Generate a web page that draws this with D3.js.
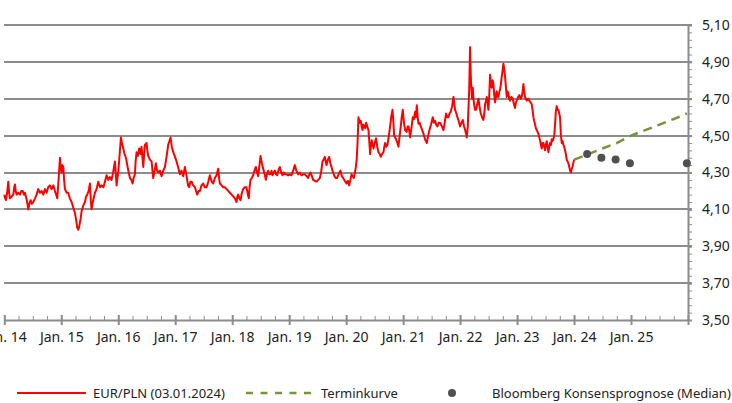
<!DOCTYPE html>
<html><head><meta charset="utf-8">
<script src="https://cdn.jsdelivr.net/npm/d3@7/dist/d3.min.js"></script>
<style>html,body{margin:0;padding:0;background:#fff;}svg{display:block;font-family:"Noto Sans",sans-serif;}</style>
</head><body><svg id="chart" width="732" height="403"></svg>
<script>
// EUR/PLN daily close approximated: [decimal year, rate]
const eurPln = [
[2014.000,4.18],[2014.015,4.16],[2014.029,4.15],[2014.050,4.19],[2014.070,4.25],[2014.085,4.19],[2014.099,4.16],[2014.130,4.17],[2014.158,4.18],[2014.175,4.22],
[2014.187,4.235],[2014.200,4.20],[2014.216,4.18],[2014.245,4.19],[2014.275,4.18],[2014.300,4.20],[2014.322,4.20],[2014.345,4.18],[2014.363,4.19],[2014.395,4.15],
[2014.421,4.10],[2014.440,4.13],[2014.462,4.15],[2014.485,4.13],[2014.509,4.14],[2014.540,4.16],[2014.567,4.18],[2014.596,4.21],[2014.625,4.19],[2014.655,4.20],
[2014.685,4.18],[2014.713,4.21],[2014.743,4.19],[2014.770,4.22],[2014.801,4.23],[2014.830,4.21],[2014.860,4.23],[2014.889,4.20],[2014.930,4.16],[2014.950,4.25],
[2014.977,4.38],[2014.990,4.33],
[2015.006,4.30],[2015.020,4.34],[2015.035,4.33],[2015.050,4.26],[2015.064,4.21],[2015.095,4.19],[2015.123,4.19],[2015.150,4.16],[2015.181,4.14],[2015.210,4.11],
[2015.240,4.08],[2015.262,4.04],[2015.281,4.00],[2015.300,3.99],[2015.316,4.01],[2015.340,4.05],[2015.357,4.09],[2015.385,4.12],[2015.415,4.14],[2015.436,4.17],
[2015.456,4.18],[2015.480,4.20],[2015.503,4.24],[2015.518,4.15],[2015.532,4.10],[2015.560,4.15],[2015.591,4.19],[2015.620,4.21],[2015.649,4.25],[2015.680,4.22],
[2015.708,4.23],[2015.740,4.22],[2015.766,4.25],[2015.795,4.285],[2015.825,4.26],[2015.854,4.275],[2015.883,4.26],[2015.910,4.30],[2015.942,4.36],[2015.955,4.30],
[2015.971,4.23],[2015.985,4.27],
[2016.000,4.30],[2016.020,4.38],[2016.047,4.49],[2016.065,4.46],[2016.088,4.43],[2016.110,4.40],[2016.135,4.38],[2016.170,4.32],[2016.205,4.27],[2016.230,4.26],
[2016.251,4.24],[2016.270,4.27],[2016.292,4.29],[2016.305,4.36],[2016.322,4.41],[2016.345,4.39],[2016.368,4.43],[2016.390,4.40],[2016.409,4.44],[2016.425,4.38],
[2016.439,4.33],[2016.455,4.40],[2016.468,4.45],[2016.497,4.46],[2016.510,4.42],[2016.526,4.39],[2016.555,4.37],[2016.585,4.36],[2016.614,4.27],[2016.640,4.31],
[2016.661,4.35],[2016.680,4.31],[2016.702,4.30],[2016.731,4.31],[2016.760,4.28],[2016.790,4.31],[2016.819,4.33],[2016.850,4.39],[2016.877,4.45],[2016.918,4.49],
[2016.940,4.44],[2016.965,4.41],[2016.990,4.39],
[2017.023,4.36],[2017.050,4.33],[2017.082,4.29],[2017.110,4.31],[2017.140,4.28],[2017.170,4.33],[2017.199,4.28],[2017.225,4.23],[2017.246,4.22],[2017.265,4.25],
[2017.287,4.25],[2017.315,4.23],[2017.345,4.22],[2017.365,4.20],[2017.386,4.18],[2017.410,4.20],[2017.433,4.20],[2017.460,4.23],[2017.491,4.24],[2017.520,4.22],
[2017.550,4.22],[2017.580,4.25],[2017.608,4.285],[2017.640,4.25],[2017.667,4.24],[2017.695,4.27],[2017.725,4.285],[2017.754,4.32],[2017.770,4.27],[2017.784,4.24],
[2017.815,4.23],[2017.842,4.22],[2017.870,4.22],[2017.901,4.21],[2017.930,4.20],[2017.959,4.19],[2017.990,4.18],
[2018.018,4.17],[2018.045,4.16],[2018.076,4.14],[2018.090,4.17],[2018.105,4.18],[2018.125,4.16],[2018.146,4.15],[2018.170,4.19],[2018.193,4.21],[2018.220,4.22],
[2018.251,4.22],[2018.275,4.18],[2018.292,4.16],[2018.305,4.22],[2018.322,4.26],[2018.345,4.27],[2018.368,4.285],[2018.390,4.31],[2018.415,4.33],[2018.436,4.30],
[2018.456,4.28],[2018.475,4.33],[2018.497,4.39],[2018.520,4.35],[2018.544,4.32],[2018.570,4.29],[2018.591,4.26],[2018.610,4.29],[2018.632,4.31],[2018.650,4.29],
[2018.673,4.29],[2018.690,4.31],[2018.708,4.285],[2018.728,4.30],[2018.749,4.31],[2018.770,4.29],[2018.789,4.285],[2018.810,4.31],[2018.836,4.33],[2018.860,4.30],
[2018.883,4.285],[2018.905,4.30],[2018.924,4.29],[2018.950,4.29],[2018.982,4.285],
[2019.010,4.29],[2019.041,4.285],[2019.070,4.31],[2019.099,4.34],[2019.125,4.31],[2019.158,4.29],[2019.185,4.30],[2019.216,4.285],[2019.245,4.29],[2019.275,4.29],
[2019.305,4.28],[2019.333,4.27],[2019.355,4.29],[2019.374,4.30],[2019.400,4.28],[2019.421,4.26],[2019.450,4.255],[2019.480,4.25],[2019.510,4.26],[2019.538,4.27],
[2019.560,4.30],[2019.585,4.36],[2019.605,4.37],[2019.626,4.385],[2019.640,4.36],[2019.655,4.34],[2019.680,4.37],[2019.702,4.385],[2019.722,4.35],[2019.743,4.33],
[2019.760,4.31],[2019.772,4.30],[2019.795,4.28],[2019.819,4.27],[2019.840,4.27],[2019.860,4.285],[2019.880,4.30],[2019.901,4.31],[2019.925,4.28],[2019.947,4.27],
[2019.975,4.255],
[2020.006,4.24],[2020.030,4.255],[2020.053,4.23],[2020.075,4.26],[2020.094,4.29],[2020.115,4.28],[2020.135,4.27],[2020.155,4.30],[2020.170,4.33],[2020.185,4.37],
[2020.200,4.46],[2020.216,4.60],[2020.237,4.57],[2020.257,4.58],[2020.272,4.55],[2020.287,4.53],[2020.300,4.56],[2020.316,4.55],[2020.335,4.54],[2020.351,4.57],
[2020.370,4.55],[2020.392,4.53],[2020.408,4.46],[2020.421,4.40],[2020.435,4.45],[2020.450,4.475],[2020.465,4.45],[2020.480,4.43],[2020.500,4.46],[2020.526,4.485],
[2020.545,4.44],[2020.567,4.41],[2020.590,4.40],[2020.608,4.385],[2020.630,4.40],[2020.655,4.41],[2020.670,4.44],[2020.684,4.46],[2020.705,4.44],[2020.725,4.45],
[2020.750,4.50],[2020.772,4.55],[2020.790,4.60],[2020.813,4.64],[2020.828,4.58],[2020.842,4.50],[2020.860,4.49],[2020.877,4.48],[2020.900,4.46],[2020.918,4.44],
[2020.940,4.50],[2020.959,4.55],[2020.975,4.60],[2020.994,4.64],
[2021.015,4.57],[2021.035,4.53],[2021.060,4.52],[2021.080,4.55],[2021.094,4.55],[2021.110,4.52],[2021.123,4.49],[2021.145,4.54],[2021.170,4.60],[2021.190,4.59],
[2021.211,4.63],[2021.225,4.60],[2021.240,4.665],[2021.255,4.60],[2021.269,4.565],[2021.290,4.57],[2021.310,4.55],[2021.335,4.53],[2021.357,4.51],[2021.385,4.48],
[2021.415,4.46],[2021.440,4.50],[2021.462,4.53],[2021.490,4.56],[2021.520,4.60],[2021.540,4.57],[2021.561,4.58],[2021.580,4.56],[2021.602,4.55],[2021.625,4.57],
[2021.649,4.57],[2021.680,4.55],[2021.708,4.53],[2021.730,4.57],[2021.754,4.62],[2021.775,4.60],[2021.795,4.60],[2021.815,4.62],[2021.836,4.63],[2021.860,4.66],
[2021.883,4.71],[2021.900,4.67],[2021.912,4.64],[2021.935,4.62],[2021.953,4.60],[2021.975,4.58],
[2022.000,4.55],[2022.025,4.57],[2022.047,4.585],[2022.070,4.55],[2022.088,4.53],[2022.105,4.51],[2022.117,4.49],[2022.135,4.55],[2022.146,4.64],[2022.160,4.75],
[2022.175,4.98],[2022.185,4.85],[2022.193,4.78],[2022.210,4.70],[2022.222,4.76],[2022.235,4.70],[2022.246,4.67],[2022.262,4.64],[2022.281,4.64],[2022.300,4.67],
[2022.322,4.70],[2022.340,4.66],[2022.363,4.62],[2022.385,4.60],[2022.409,4.585],[2022.425,4.62],[2022.439,4.67],[2022.455,4.69],[2022.468,4.71],[2022.482,4.68],
[2022.497,4.64],[2022.512,4.72],[2022.526,4.83],[2022.540,4.78],[2022.556,4.76],[2022.570,4.80],[2022.585,4.78],[2022.600,4.72],[2022.614,4.68],[2022.630,4.72],
[2022.643,4.74],[2022.658,4.71],[2022.673,4.71],[2022.690,4.74],[2022.702,4.75],[2022.716,4.78],[2022.731,4.82],[2022.745,4.85],[2022.760,4.89],[2022.775,4.86],
[2022.789,4.82],[2022.805,4.76],[2022.819,4.71],[2022.833,4.74],[2022.848,4.73],[2022.862,4.70],[2022.877,4.69],[2022.900,4.71],[2022.924,4.70],[2022.945,4.67],
[2022.965,4.65],[2022.980,4.68],[2022.994,4.69],
[2023.020,4.71],[2023.041,4.72],[2023.060,4.70],[2023.082,4.71],[2023.098,4.74],[2023.111,4.78],[2023.125,4.74],[2023.140,4.71],[2023.155,4.70],[2023.170,4.69],
[2023.195,4.70],[2023.216,4.69],[2023.237,4.68],[2023.257,4.67],[2023.272,4.64],[2023.287,4.60],[2023.300,4.58],[2023.316,4.56],[2023.330,4.54],[2023.345,4.53],
[2023.360,4.52],[2023.374,4.51],[2023.390,4.49],[2023.404,4.475],[2023.418,4.45],[2023.433,4.43],[2023.447,4.46],[2023.462,4.46],[2023.476,4.44],[2023.491,4.42],
[2023.505,4.45],[2023.520,4.47],[2023.535,4.44],[2023.550,4.41],[2023.565,4.44],[2023.579,4.46],[2023.595,4.45],[2023.608,4.48],[2023.622,4.47],[2023.637,4.48],
[2023.652,4.50],[2023.667,4.56],[2023.680,4.63],[2023.696,4.66],[2023.710,4.64],[2023.725,4.64],[2023.740,4.62],[2023.754,4.60],[2023.770,4.50],[2023.784,4.46],
[2023.800,4.47],[2023.813,4.45],[2023.828,4.44],[2023.842,4.42],[2023.857,4.40],[2023.871,4.37],[2023.886,4.36],[2023.901,4.35],[2023.916,4.33],[2023.930,4.31],
[2023.947,4.30],[2023.960,4.32],[2023.971,4.33],[2023.985,4.35],[2024.003,4.37]
];
const terminTimes  = [2024.003, 2024.25, 2024.5, 2024.75, 2025.0, 2025.25, 2025.5, 2025.75, 2025.98];
const terminValues = [4.37, 4.40, 4.43, 4.46, 4.50, 4.53, 4.56, 4.59, 4.62];
const forecastTimes  = [2024.23, 2024.48, 2024.73, 2024.98, 2025.98];
const forecastValues = [4.40, 4.38, 4.37, 4.35, 4.35];
const yTickValues = [3.5, 3.7, 3.9, 4.1, 4.3, 4.5, 4.7, 4.9, 5.1];
const xTickYears  = [2014, 2015, 2016, 2017, 2018, 2019, 2020, 2021, 2022, 2023, 2024, 2025, 2026];
const xTickLabels = ["Jan. 14","Jan. 15","Jan. 16","Jan. 17","Jan. 18","Jan. 19","Jan. 20","Jan. 21","Jan. 22","Jan. 23","Jan. 24","Jan. 25",""];
const legendLabels = ["EUR/PLN (03.01.2024)", "Terminkurve", "Bloomberg Konsensprognose (Median)"];

const svg = d3.select("#chart");
const gridColor = "#8c8c8c";
const x = d3.scaleLinear().domain([2014, 2026]).range([4.3, 688]);
const y = d3.scaleLinear().domain([3.5, 5.1]).range([320, 25]);

// gridlines
svg.append("g").selectAll("line").data(yTickValues.filter(v => v > 3.5)).join("line")
  .attr("x1", 4).attr("x2", 692)
  .attr("y1", d => Math.round(y(d))).attr("y2", d => Math.round(y(d)))
  .attr("stroke", gridColor).attr("stroke-width", 2);

// right axis: minor ticks
const yMinor = d3.range(0, 41).map(i => 3.5 + i * 0.04);
const yMinorAxis = d3.axisRight(y).tickValues(yMinor).tickSize(4).tickFormat("").tickSizeOuter(0);
const gyMinor = svg.append("g").attr("transform", "translate(688,0)").call(yMinorAxis);
gyMinor.select(".domain").attr("stroke", gridColor).attr("stroke-width", 2);
gyMinor.selectAll(".tick line").attr("stroke", gridColor).attr("stroke-width", 1);

const yAxis = d3.axisRight(y).tickValues(yTickValues).tickSize(4).tickPadding(10)
  .tickFormat(d => d3.format(".2f")(d).replace(".", ",")).tickSizeOuter(0);
const gy = svg.append("g").attr("transform", "translate(688,0)").call(yAxis);
gy.select(".domain").remove();
gy.selectAll(".tick line").attr("stroke", gridColor).attr("stroke-width", 2);
gy.selectAll(".tick text").attr("font-size", 14).attr("fill", "#222").attr("font-family", '"Noto Sans", sans-serif');

// bottom axis
const xMinor = d3.range(0, 49).map(i => 2014 + i * 0.25);
const xMinorAxis = d3.axisBottom(x).tickValues(xMinor).tickSize(0).tickFormat("").tickSizeOuter(0);
const gxMinor = svg.append("g").attr("transform", "translate(0,320)").call(xMinorAxis);
gxMinor.select(".domain").attr("stroke", gridColor).attr("stroke-width", 2);
gxMinor.selectAll(".tick line").attr("y1", -4).attr("y2", 0).attr("stroke", gridColor).attr("stroke-width", 1);

const xAxis = d3.axisBottom(x).tickValues(xTickYears).tickSize(5).tickSizeOuter(0)
  .tickFormat((d, i) => xTickLabels[i]);
const gx = svg.append("g").attr("transform", "translate(0,320)").call(xAxis);
gx.select(".domain").remove();
gx.selectAll(".tick line").attr("y1", -5).attr("y2", 5).attr("stroke", gridColor).attr("stroke-width", 2);
gx.selectAll(".tick text").attr("y", 22).attr("dy", null).attr("font-size", 14).attr("fill", "#222")
  .attr("font-family", '"Noto Sans", sans-serif');

// EUR/PLN line
const line = d3.line().x(d => x(d[0])).y(d => y(d[1]));
svg.append("path").datum(eurPln).attr("d", line).attr("fill", "none")
  .attr("stroke", "#ff0000").attr("stroke-width", 2).attr("stroke-linejoin", "round");

// Terminkurve
const termin = terminTimes.map((t, i) => [t, terminValues[i]]);
svg.append("path").datum(termin).attr("d", line).attr("fill", "none")
  .attr("stroke", "#77933c").attr("stroke-width", 2.5).attr("stroke-dasharray", "9,6");

// Forecast dots
svg.append("g").selectAll("circle").data(forecastTimes.map((t, i) => [t, forecastValues[i]])).join("circle")
  .attr("cx", d => x(d[0])).attr("cy", d => y(d[1])).attr("r", 4).attr("fill", "#505050");

// Legend
const lg = svg.append("g").attr("font-size", 13).attr("fill", "#222");
const ly = 393;
lg.append("line").attr("x1", 17).attr("x2", 86).attr("y1", ly).attr("y2", ly).attr("stroke", "#ff0000").attr("stroke-width", 2);
lg.append("text").attr("x", 93).attr("y", ly + 4.5).text(legendLabels[0]);
lg.append("line").attr("x1", 246).attr("x2", 312).attr("y1", ly).attr("y2", ly).attr("stroke", "#77933c").attr("stroke-width", 2.5).attr("stroke-dasharray", "7,7.5");
lg.append("text").attr("x", 321).attr("y", ly + 4.5).text(legendLabels[1]);
lg.append("circle").attr("cx", 452).attr("cy", ly).attr("r", 4).attr("fill", "#505050");
lg.append("text").attr("x", 492).attr("y", ly + 4.5).text(legendLabels[2]);
</script></body></html>
